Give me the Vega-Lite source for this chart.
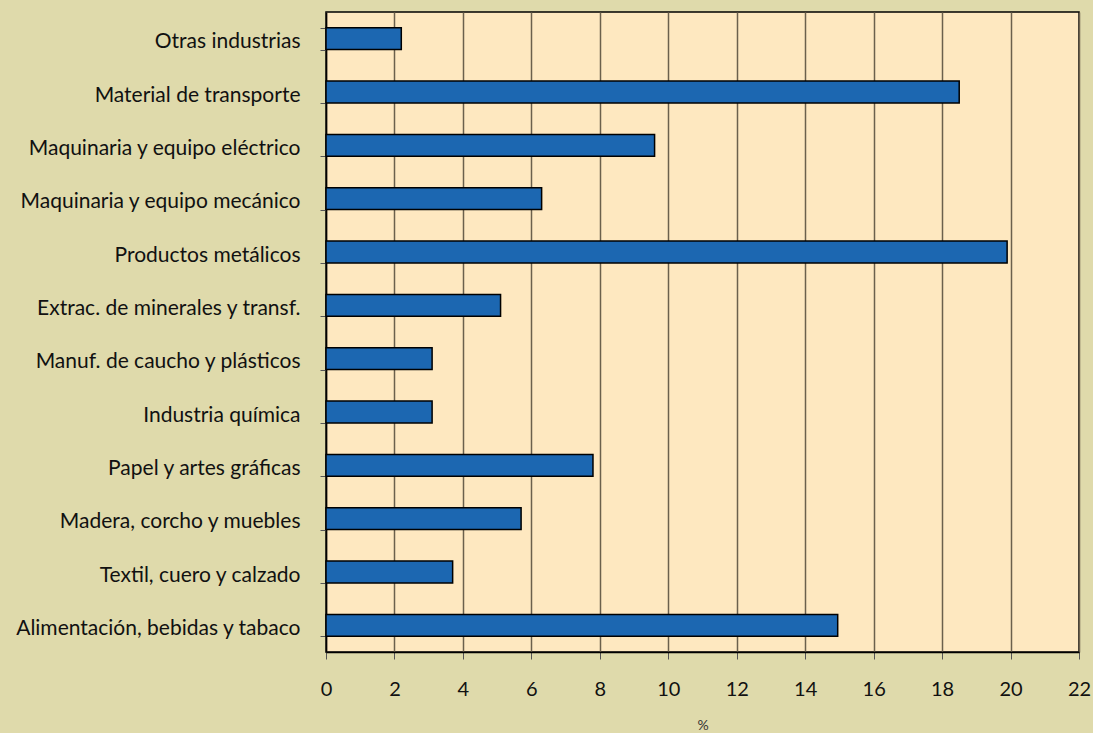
{
  "$schema": "https://vega.github.io/schema/vega-lite/v6.json",
  "width": 753,
  "height": 640,
  "autosize": {"type": "none"},
  "padding": {"left": 326, "top": 12, "right": 14, "bottom": 81},
  "background": "#dfdaab",
  "view": {"fill": "#fee8c0", "stroke": "#000000", "strokeWidth": 1.5},
  "data": {
    "values": [
      {"sector": "Otras industrias", "pct": 2.2},
      {"sector": "Material de transporte", "pct": 18.5},
      {"sector": "Maquinaria y equipo eléctrico", "pct": 9.6},
      {"sector": "Maquinaria y equipo mecánico", "pct": 6.3},
      {"sector": "Productos metálicos", "pct": 19.9},
      {"sector": "Extrac. de minerales y transf.", "pct": 5.1},
      {"sector": "Manuf. de caucho y plásticos", "pct": 3.1},
      {"sector": "Industria química", "pct": 3.1},
      {"sector": "Papel y artes gráficas", "pct": 7.8},
      {"sector": "Madera, corcho y muebles", "pct": 5.7},
      {"sector": "Textil, cuero y calzado", "pct": 3.7},
      {"sector": "Alimentación, bebidas y tabaco", "pct": 14.95}
    ]
  },
  "mark": {"type": "bar", "color": "#1c67b1", "stroke": "#000000", "strokeWidth": 1.5},
  "encoding": {
    "y": {
      "field": "sector",
      "type": "nominal",
      "sort": null,
      "scale": {"paddingInner": 0.59, "paddingOuter": 0.295},
      "axis": {
        "title": null,
        "tickBand": "extent",
        "grid": false,
        "domainColor": "#000000",
        "domainWidth": 1.5,
        "tickColor": "#555555",
        "tickSize": 6,
        "labelPadding": 20,
        "labelOffset": 3,
        "labelLimit": 0,
        "labelFont": "Lato",
        "labelFontSize": 21,
        "labelColor": "#111111"
      }
    },
    "x": {
      "field": "pct",
      "type": "quantitative",
      "scale": {"domain": [0, 22], "nice": false},
      "axis": {
        "title": "%",
        "values": [0, 2, 4, 6, 8, 10, 12, 14, 16, 18, 20, 22],
        "grid": true,
        "gridColor": "#6b604c",
        "gridWidth": 1.5,
        "gridOpacity": 1,
        "domainColor": "#000000",
        "domainWidth": 1.5,
        "tickColor": "#555555",
        "tickSize": 7,
        "labelPadding": 20,
        "labelFlush": false,
        "labelOverlap": false,
        "labelFont": "Lato",
        "labelFontSize": 20,
        "labelColor": "#111111",
        "titleFont": "Lato",
        "titleFontSize": 14,
        "titleFontWeight": "normal",
        "titleColor": "#333333",
        "titlePadding": 19
      }
    }
  }
}
